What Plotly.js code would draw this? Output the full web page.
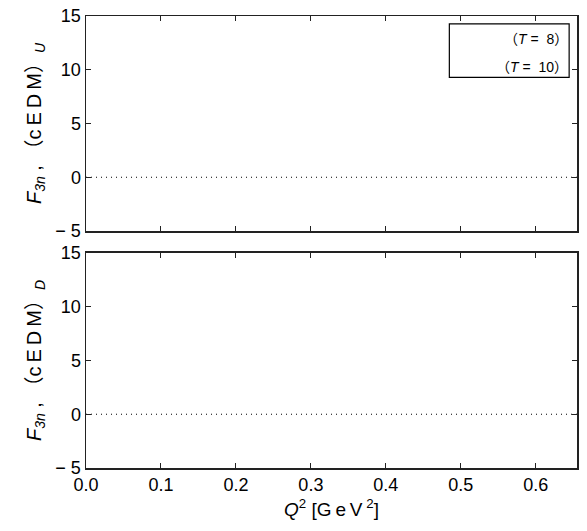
<!DOCTYPE html>
<html>
<head>
<meta charset="utf-8">
<script src="https://cdn.plot.ly/plotly-3.0.1.min.js"></script>
<style>html,body{margin:0;padding:0;background:#fff;}#chart{width:587px;height:531px;}</style>
</head>
<body>
<div id="chart"></div>
<script>
// Data
var zeroLineX = [0, 0.655];
var zeroLineY = [0, 0];
var xTickVals = [0, 0.1, 0.2, 0.3, 0.4, 0.5, 0.6];
var xTickText = ["0.0", "0.1", "0.2", "0.3", "0.4", "0.5", "0.6"];
var yTickVals = [-5, 0, 5, 10, 15];
var yTickText = ["\u2212 5", "0", "5", "10", "15"];
var legendLabels = ["\uFF08<i>T</i> =  8\uFF09", "\uFF08<i>T</i> =  10\uFF09"];
var xRange = [0, 0.655];
var yRange = [-5, 15];

var FONT = "Liberation Sans, Arial, Noto Sans CJK JP, sans-serif";
var TS = "\u2009";
var dotStyle = {color: "#000", width: 1, dash: "1px,4px"};

var traces = [
  {x: zeroLineX, y: zeroLineY, xaxis: "x", yaxis: "y", mode: "lines", line: dotStyle, showlegend: false, hoverinfo: "skip"},
  {x: zeroLineX, y: zeroLineY, xaxis: "x2", yaxis: "y2", mode: "lines", line: dotStyle, showlegend: false, hoverinfo: "skip"}
];

function xAxis(showLabels, anchor) {
  return {
    anchor: anchor, domain: [0, 1], range: xRange,
    tickmode: "array", tickvals: xTickVals, ticktext: xTickText,
    showticklabels: showLabels,
    ticks: "inside", ticklen: 5, tickwidth: 1, tickcolor: "#222",
    showline: true, linecolor: "#222", linewidth: 1.5, mirror: "allticks",
    showgrid: false, zeroline: false,
    tickfont: {family: FONT, size: 18, color: "#000"}
  };
}
function yAxis(domain, anchor, sub) {
  return {
    anchor: anchor, domain: domain, range: yRange,
    tickmode: "array", tickvals: yTickVals, ticktext: yTickText,
    ticks: "inside", ticklen: 5, tickwidth: 1, tickcolor: "#222",
    showline: true, linecolor: "#222", linewidth: 1.5, mirror: "allticks",
    showgrid: false, zeroline: false,
    tickfont: {family: FONT, size: 18, color: "#000"},
    title: {text: "<i>F</i><sub><i>3n</i></sub> , \uFF08c" + TS + "E" + TS + "D" + TS + "M\uFF09<sub><i>" + sub + "</i></sub>",
            font: {family: FONT, size: 20, color: "#000"}, standoff: 8}
  };
}

var layout = {
  width: 587, height: 531,
  margin: {l: 86, r: 10, t: 16, b: 63},
  paper_bgcolor: "#fff", plot_bgcolor: "#fff",
  showlegend: false,
  xaxis: xAxis(false, "y"),
  yaxis: yAxis([0.5243, 1], "x", "U"),
  xaxis2: Object.assign(xAxis(true, "y2"), {
    title: {text: "<i>Q</i><sup>2</sup> [G" + TS + "e" + TS + "V" + TS + "<sup>2</sup>]", font: {family: FONT, size: 19, color: "#000"}, standoff: 8}
  }),
  yaxis2: yAxis([0, 0.4757], "x2", "D"),
  shapes: [
    {type: "rect", xref: "x domain", yref: "y domain", x0: 0.740, x1: 0.984, y0: 0.715, y1: 0.963,
     line: {color: "#000", width: 1.2}, fillcolor: "rgba(0,0,0,0)"}
  ],
  annotations: [
    {xref: "x domain", yref: "y domain", x: 0.985, y: 0.895, xanchor: "right", yanchor: "middle",
     text: legendLabels[0], showarrow: false, font: {family: FONT, size: 14, color: "#000"}},
    {xref: "x domain", yref: "y domain", x: 0.985, y: 0.765, xanchor: "right", yanchor: "middle",
     text: legendLabels[1], showarrow: false, font: {family: FONT, size: 14, color: "#000"}}
  ]
};

Plotly.newPlot("chart", traces, layout, {displayModeBar: false, staticPlot: true});
</script>
</body>
</html>
